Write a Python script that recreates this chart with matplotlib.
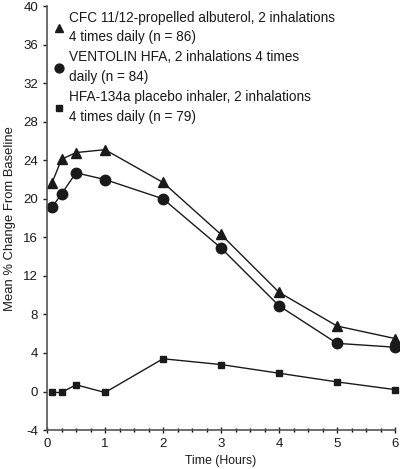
import matplotlib.pyplot as plt
from matplotlib.ticker import MultipleLocator

# Time points (hours)
hours = [0.083, 0.25, 0.5, 1, 2, 3, 4, 5, 6]

# Mean % change from baseline in FEV1
cfc_albuterol = [21.6, 24.1, 24.8, 25.1, 21.7, 16.3, 10.3, 6.8, 5.5]
ventolin_hfa = [19.1, 20.5, 22.7, 22.0, 20.0, 14.9, 8.9, 5.0, 4.6]
placebo = [-0.1, -0.1, 0.7, -0.1, 3.4, 2.8, 1.9, 1.0, 0.2]

labels = [
    "CFC 11/12-propelled albuterol, 2 inhalations\n4 times daily (n = 86)",
    "VENTOLIN HFA, 2 inhalations 4 times\ndaily (n = 84)",
    "HFA-134a placebo inhaler, 2 inhalations\n4 times daily (n = 79)",
]

plt.rcParams['font.family'] = ['Liberation Sans', 'DejaVu Sans']
plt.rcParams['axes.unicode_minus'] = False


def main():
    fig = plt.figure(figsize=(4.0, 4.69), dpi=100)
    ax = fig.add_axes([0.1175, 0.083, 0.87, 0.904])

    col = '#1a1a1a'
    ax.plot(hours, cfc_albuterol, color=col, lw=1.0, marker='^', ms=6.5,
            label=labels[0], clip_on=False)
    ax.plot(hours, ventolin_hfa, color=col, lw=1.0, marker='o', ms=7.5,
            label=labels[1], clip_on=False)
    ax.plot(hours, placebo, color=col, lw=1.0, marker='s', ms=4.5,
            label=labels[2], clip_on=False)

    ax.set_xlim(0, 6)
    ax.set_ylim(-4, 40)
    ax.xaxis.set_major_locator(MultipleLocator(1))
    ax.xaxis.set_minor_locator(MultipleLocator(0.25))
    ax.yaxis.set_major_locator(MultipleLocator(4))
    ax.tick_params(axis='both', labelsize=9.5, colors=col, length=3, width=1)
    ax.tick_params(axis='x', which='minor', length=3, width=1, direction='inout')
    ax.tick_params(axis='x', which='major', direction='inout', length=4)
    ax.tick_params(axis='y', direction='out')

    for side in ('top', 'right'):
        ax.spines[side].set_visible(False)
    for side in ('left', 'bottom'):
        ax.spines[side].set_color('#555555')
        ax.spines[side].set_linewidth(1.2)

    ax.set_xlabel("Time (Hours)", fontsize=8.8, color=col, labelpad=4)
    ax.set_ylabel("Mean % Change From Baseline", fontsize=9.4, color=col, labelpad=5)

    leg = ax.legend(loc='upper left', bbox_to_anchor=(0.0, 1.005), frameon=False,
                    fontsize=9.8, handlelength=0.7, handletextpad=0.4,
                    labelspacing=0.45, markerscale=0.85, borderpad=0.3,
                    borderaxespad=0.2)
    for t in leg.get_texts():
        t.set_color(col)
        t.set_linespacing(1.5)
    for h in leg.legend_handles:
        h.set_linestyle('none')

    fig.savefig('out.png', dpi=100)


if __name__ == "__main__":
    main()
